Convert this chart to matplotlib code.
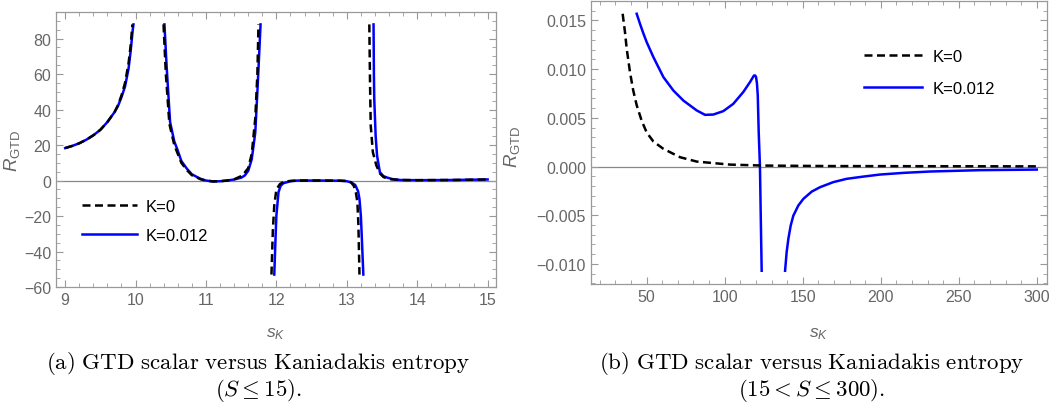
import numpy as np
import matplotlib
matplotlib.use('Agg')
import matplotlib.pyplot as plt
from matplotlib.ticker import MultipleLocator, FuncFormatter

plt.rcParams['font.family'] = 'Liberation Sans'
plt.rcParams['mathtext.fontset'] = 'custom'
plt.rcParams['mathtext.rm'] = 'Liberation Sans'
plt.rcParams['mathtext.it'] = 'Liberation Sans:italic'

# ---- panel (a): S <= 15, branches between the poles ----
a_blue_x = [
    [9.0, 9.1, 9.2, 9.3, 9.4, 9.5, 9.6, 9.7, 9.75, 9.8, 9.85, 9.9, 9.93, 9.96, 9.97],
    [10.41, 10.44, 10.49, 10.55, 10.59, 10.65, 10.73, 10.8, 10.92, 11.0, 11.1, 11.2,
     11.3, 11.4, 11.5, 11.55, 11.6, 11.65, 11.7, 11.73, 11.76, 11.775],
    [11.97, 11.99, 12.0, 12.03, 12.06, 12.1, 12.2, 12.3, 12.6, 12.9, 13.0, 13.06,
     13.12, 13.16, 13.18, 13.2, 13.21, 13.235],
    [13.38, 13.385, 13.39, 13.41, 13.43, 13.47, 13.52, 13.57, 13.65, 13.76, 14.0, 14.5, 15.0],
]
a_blue_y = [
    [18.3, 19.5, 21.0, 23.0, 25.5, 28.6, 33.0, 38.5, 42.0, 47.0, 53.0, 63.0, 73.0, 85.0, 88.0],
    [88, 65, 33, 22, 17.9, 11, 6.6, 3.5, 1.0, 0.0, -0.5, -0.4,
     0.0, 0.6, 1.6, 2.8, 5.5, 12, 27, 50, 75, 88],
    [-53, -30, -19.8, -6.6, -3, -1.5, -0.4, 0, 0, -0.1, -0.4, -1,
     -2.5, -6, -10.4, -20, -29, -53],
    [88, 60, 46, 25, 14, 4.7, 2.5, 1.7, 0.8, 0.3, 0.2, 0.3, 0.6],
]
a_black_x = [
    [9.0, 9.1, 9.2, 9.3, 9.4, 9.5, 9.6, 9.7, 9.75, 9.8, 9.85, 9.9, 9.93, 9.955],
    [10.397, 10.43, 10.48, 10.55, 10.6, 10.65, 10.73, 10.8, 10.92, 11.0, 11.1, 11.2,
     11.3, 11.4, 11.5, 11.55, 11.6, 11.65, 11.7, 11.73, 11.746],
    [11.93, 11.95, 11.97, 12.0, 12.05, 12.1, 12.2, 12.3, 12.6, 12.9, 13.0, 13.06,
     13.1, 13.13, 13.15, 13.165, 13.18],
    [13.32, 13.33, 13.34, 13.37, 13.42, 13.47, 13.52, 13.6, 13.76, 14.0, 14.5, 15.0],
]
a_black_y = [
    [18.3, 19.5, 21.0, 23.0, 25.5, 28.6, 33.0, 38.5, 42.5, 48.0, 55.0, 66.0, 76.0, 88.0],
    [88, 60, 32, 20, 15, 10, 5.8, 3.0, 0.8, -0.1, -0.5, -0.4,
     0.0, 0.7, 2.5, 4.5, 7, 15, 35, 60, 88],
    [-53, -28, -14, -5, -2, -0.8, -0.2, 0, 0, -0.1, -0.2, -1,
     -3, -7, -12, -25, -53],
    [88, 55, 31, 16, 8.5, 4, 2, 0.8, 0.3, 0.2, 0.3, 0.6],
]

# ---- panel (b): 15 < S <= 300 ----
b_blue_x = [
    [43.6, 45.7, 47.8, 50.0, 54.3, 60.7, 67.1, 73.5, 82.1, 87.4, 92.7, 99.1, 105.5,
     111.9, 116.2, 118.0, 118.8, 119.5, 120.1, 120.7, 121.2, 121.8, 122.6, 123.1, 123.7],
    [138.7, 139.7, 140.8, 142.3, 144.0, 147.2, 150.4, 155.8, 161.1, 169.6, 178.2, 188.9,
     199.6, 214.5, 231.6, 263.7, 300.0],
]
b_blue_y = [
    [0.01569, 0.01467, 0.01371, 0.01278, 0.01124, 0.00919, 0.00781, 0.00678, 0.00576,
     0.00531, 0.00534, 0.00569, 0.00644, 0.00765, 0.00867, 0.00915, 0.00935, 0.00935,
     0.0092, 0.0085, 0.0073, 0.00353, 0.0, -0.005, -0.0107],
    [-0.0107, -0.0088, -0.00743, -0.00606, -0.00504, -0.004, -0.00332, -0.00257, -0.00212,
     -0.0016, -0.00126, -0.00103, -0.00082, -0.00065, -0.00051, -0.00037, -0.00031],
]
b_black_x = [34.6, 36.1, 37.2, 39.3, 41.4, 43.6, 46.8, 50.0, 54.3, 60.7, 71.4, 82.1,
             103.4, 124.8, 167.5, 300.0]
b_black_y = [0.01569, 0.0138, 0.0121, 0.0097, 0.0078, 0.0063, 0.0047, 0.0035, 0.00257,
             0.00182, 0.00096, 0.00051, 0.0002, 0.0001, 0.00005, 0.00002]

frame_col = '#999999'
tick_col = '#666666'
blue = '#0000ff'
dash = (3.2, 1.8)
lw = 1.8

fig = plt.figure(figsize=(10.57, 4.10), dpi=100)
ax1 = fig.add_axes([0.0530, 0.2976, 0.4163, 0.6707])
ax2 = fig.add_axes([0.5591, 0.3049, 0.4312, 0.6902])


def style(ax):
    for s in ax.spines.values():
        s.set_color(frame_col)
        s.set_linewidth(0.9)
    ax.tick_params(which='both', direction='in', top=True, right=True,
                   colors=frame_col, labelcolor=tick_col, labelsize=11.5)
    ax.tick_params(which='major', length=5, width=0.8)
    ax.tick_params(which='minor', length=3, width=0.6)
    ax.axhline(0, color='#888888', lw=0.9, zorder=1)


# panel (a)
for i in range(len(a_black_x)):
    ax1.plot(a_black_x[i], a_black_y[i], color='black', lw=lw, dashes=dash,
             label='K=0' if i == 0 else None, zorder=3)
for i in range(len(a_blue_x)):
    ax1.plot(a_blue_x[i], a_blue_y[i], color=blue, lw=lw,
             label='K=0.012' if i == 0 else None, zorder=2)
ax1.set_xlim(8.87, 15.12)
ax1.set_ylim(-60, 95)
ax1.xaxis.set_major_locator(MultipleLocator(1))
ax1.xaxis.set_minor_locator(MultipleLocator(0.2))
ax1.yaxis.set_major_locator(MultipleLocator(20))
ax1.yaxis.set_minor_locator(MultipleLocator(5))
style(ax1)
ax1.set_xlabel(r'$s_K$', color=tick_col, fontsize=12.5)
ax1.set_ylabel(r'$R_{\rm GTD}$', color=tick_col, fontsize=13.5)
ax1.xaxis.set_label_coords(0.5, -0.138)
ax1.yaxis.set_label_coords(-0.077, 0.5)
ax1.legend(loc='upper left', bbox_to_anchor=(0.059, 0.32), frameon=False, fontsize=12,
           handlelength=3.3, handletextpad=0.5, labelspacing=0.85, borderpad=0, borderaxespad=0)

# panel (b)
ax2.plot(b_black_x, b_black_y, color='black', lw=lw, dashes=dash, label='K=0', zorder=3)
for i in range(len(b_blue_x)):
    ax2.plot(b_blue_x[i], b_blue_y[i], color=blue, lw=lw,
             label='K=0.012' if i == 0 else None, zorder=2)
ax2.set_xlim(14.3, 306.4)
ax2.set_ylim(-0.01206, 0.0170)
ax2.xaxis.set_major_locator(MultipleLocator(50))
ax2.xaxis.set_minor_locator(MultipleLocator(10))
ax2.yaxis.set_major_locator(MultipleLocator(0.005))
ax2.yaxis.set_minor_locator(MultipleLocator(0.001))


def fmt(v, p):
    if abs(v) < 1e-9:
        v = 0.0
    return f'{v:.3f}'.replace('-', '\u2212')


ax2.yaxis.set_major_formatter(FuncFormatter(fmt))
style(ax2)
ax2.set_xlabel(r'$s_K$', color=tick_col, fontsize=12.5)
ax2.set_ylabel(r'$R_{\rm GTD}$', color=tick_col, fontsize=13.5)
ax2.xaxis.set_label_coords(0.5, -0.145)
ax2.yaxis.set_label_coords(-0.151, 0.49)
ax2.legend(loc='upper left', bbox_to_anchor=(0.599, 0.83), frameon=False, fontsize=12,
           handlelength=3.5, handletextpad=0.6, labelspacing=1.0, borderpad=0, borderaxespad=0)

# captions
cap = dict(ha='center', va='center', fontsize=16.5, math_fontfamily='cm')
fig.text(258 / 1057, 1 - 364 / 410, r'$\mathrm{(a)\ GTD\ scalar\ versus\ Kaniadakis\ entropy}$', **cap)
fig.text(258 / 1057, 1 - 391 / 410, r'$(S \leq 15)\mathrm{.}$', **cap)
fig.text(812 / 1057, 1 - 364 / 410, r'$\mathrm{(b)\ GTD\ scalar\ versus\ Kaniadakis\ entropy}$', **cap)
fig.text(812 / 1057, 1 - 391 / 410, r'$(15 < S \leq 300)\mathrm{.}$', **cap)

fig.savefig('out.png', dpi=100)
